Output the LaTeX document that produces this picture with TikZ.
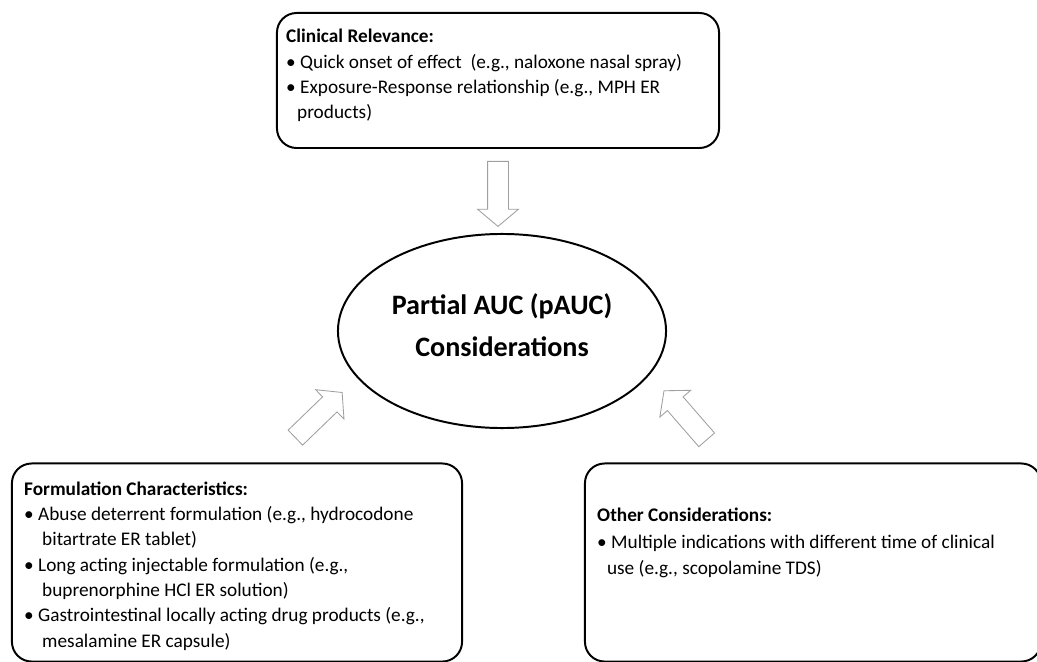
\documentclass[tikz,border=0pt]{standalone}
\usepackage{fontspec}
\setmainfont{Carlito}
\usetikzlibrary{positioning,shapes.geometric,shapes.arrows}

\tikzset{
  panel/.style={draw=black, line width=1.4pt, rounded corners=14pt, fill=white},
  hub/.style={ellipse, draw=black, line width=1.4pt, minimum width=8.2cm, minimum height=4.85cm,
    align=center, font=\fontsize{20}{30.5}\selectfont\bfseries},
  blockarrow/.style={single arrow, draw=gray!75, line width=0.6pt, fill=white,
    inner xsep=0pt, inner ysep=0.25cm,
    minimum height=1.625cm, minimum width=1cm, single arrow head extend=0.25cm,
    single arrow tip angle=100, single arrow head indent=0pt},
  notes/.style={anchor=north west, inner sep=0pt, align=left, font=\fontsize{13.7}{18}\selectfont}
}

\newcommand{\hd}[1]{\textbf{#1}}
\newcommand{\itm}{\textbullet\ }

\begin{document}
\begin{tikzpicture}[x=0.025cm,y=-0.025cm]
    \useasboundingbox (0,0) rectangle (1037,662);

    % Outer boxes
    \node[panel, minimum width=11.05cm, minimum height=3.375cm] (clin) at (498,80.5) {};
    \node[panel, minimum width=11.25cm, minimum height=4.95cm] (form) at (237,562.5) {};
    \node[panel, minimum width=11.4cm, minimum height=4.95cm] (other) at (813,562.5) {};

    % Centre ellipse
    \node[hub] (pauc) at (502,331) {Partial AUC (pAUC)\\Considerations\\[-22pt]\mbox{}};

    % Block arrows pointing to the ellipse
    \node[blockarrow, rotate=-90] (arrclin) at (498,189.5) {};
    \node[blockarrow, rotate=44] (arrform) at (315.6,418.1) {};
    \node[blockarrow, rotate=131] (arrother) at (688.2,418.6) {};

    % Box texts
    \node[notes] (clintxt) at ([shift={(10,17)}]clin.north west) {%
      \hd{Clinical Relevance:}\\
      \itm Quick onset of effect~~(e.g., naloxone nasal spray)\\
      \itm Exposure-Response relationship (e.g., MPH ER\\
      \hspace{7.8pt}products)};
    \node[notes] (formtxt) at ([shift={(13,19)}]form.north west) {%
      \hd{Formulation Characteristics:}\\
      \itm Abuse deterrent formulation (e.g., hydrocodone\\
      \hspace{12.8pt}bitartrate ER tablet)\\
      \itm Long acting injectable formulation (e.g.,\\
      \hspace{12.8pt}buprenorphine HCl ER solution)\\
      \itm Gastrointestinal locally acting drug products (e.g.,\\
      \hspace{12.8pt}mesalamine ER capsule)};
    \node[notes, font=\fontsize{13.7}{19}\selectfont] (othertxt) at ([shift={(13,45)}]other.north west) {%
      \hd{Other Considerations:}\\
      \itm Multiple indications with different time of clinical\\
      \hspace{7pt}use (e.g., scopolamine TDS)};
\end{tikzpicture}
\end{document}
